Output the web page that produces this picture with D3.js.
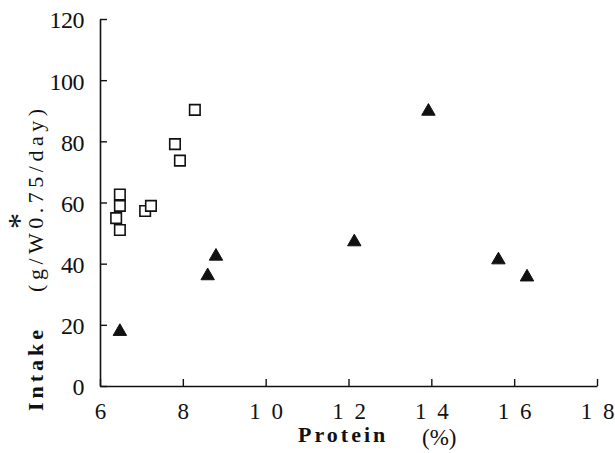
<!DOCTYPE html>
<html>
<head>
<meta charset="utf-8">
<script src="https://cdn.jsdelivr.net/npm/d3@7"></script>
<style>
  html, body { margin: 0; padding: 0; background: #fff; }
  svg { display: block; }
</style>
</head>
<body>
<svg id="chart" width="615" height="453"></svg>
<script>
// ---- data ----
const xTicks = [6, 8, 10, 12, 14, 16, 18];
const yTicks = [0, 20, 40, 60, 80, 100, 120];
// open squares
const squareProtein = [6.48, 6.48, 6.39, 6.48, 7.09, 7.23, 7.81, 7.93, 8.29];
const squareIntake  = [62.6, 58.9, 54.9, 51.0, 57.2, 58.9, 79.1, 73.7, 90.3];
// filled triangles
const triProtein = [6.48, 8.60, 8.80, 12.14, 13.93, 15.62, 16.31];
const triIntake  = [18.3, 36.5, 42.9, 47.6, 90.3, 41.7, 36.1];

const svg = d3.select("#chart");
const font = "'Liberation Serif', 'Times New Roman', serif";

const x = d3.scaleLinear().domain([6, 18]).range([100, 597]);
const y = d3.scaleLinear().domain([0, 120]).range([386, 19]);

// axes
const xAxis = d3.axisBottom(x).tickValues(xTicks).tickSize(-7).tickSizeOuter(0)
  .tickFormat(d => String(d).split("").join(" "));
const gx = svg.append("g").attr("transform", `translate(0,${y(0)})`).call(xAxis);
gx.select(".domain").attr("stroke", "#111").attr("stroke-width", 1.6);
gx.selectAll(".tick line").attr("stroke", "#111").attr("stroke-width", 1.4);
gx.selectAll(".tick text")
  .attr("font-family", font).attr("font-size", 23).attr("fill", "#111")
  .attr("word-spacing", "5px")
  .attr("y", 33).attr("dy", 0);

const yAxis = d3.axisLeft(y).tickValues(yTicks).tickSize(-7).tickSizeOuter(0)
  .tickFormat(d => String(d));
const gy = svg.append("g").attr("transform", `translate(${x(6)},0)`).call(yAxis);
gy.select(".domain").attr("stroke", "#111").attr("stroke-width", 1.6);
gy.selectAll(".tick line").attr("stroke", "#111").attr("stroke-width", 1.4);
gy.selectAll(".tick text")
  .attr("font-family", font).attr("font-size", 24).attr("fill", "#111")
  .attr("x", -16).attr("y", -6).attr("dy", "0.62em").attr("letter-spacing", "-0.5px");

// markers
const sq = d3.symbol().type(d3.symbolSquare).size(110);
svg.append("g").selectAll("path")
  .data(squareProtein.map((p, i) => [p, squareIntake[i]]))
  .join("path")
  .attr("d", sq)
  .attr("transform", d => `translate(${x(d[0])},${y(d[1])})`)
  .attr("fill", "#fff").attr("stroke", "#111").attr("stroke-width", 1.6);

const tri = d3.symbol().type(d3.symbolTriangle).size(78);
svg.append("g").selectAll("path")
  .data(triProtein.map((p, i) => [p, triIntake[i]]))
  .join("path")
  .attr("d", tri)
  .attr("transform", d => `translate(${x(d[0])},${y(d[1]) + 1.5})`)
  .attr("fill", "#111").attr("stroke", "#111").attr("stroke-width", 1);

// x axis title
svg.append("text")
  .attr("x", 298).attr("y", 442)
  .attr("font-family", font).attr("font-size", 22).attr("fill", "#111")
  .attr("font-weight", "bold").attr("letter-spacing", "3px").text("Protein");
svg.append("text")
  .attr("x", 422).attr("y", 445)
  .attr("font-family", font).attr("font-size", 23).attr("fill", "#111")
  .text("(%)");

// y axis title (rotated)
const yt = svg.append("text")
  .attr("transform", "translate(43,411) rotate(-90)")
  .attr("font-family", font).attr("font-size", 22).attr("fill", "#111");
yt.append("tspan").attr("font-weight", "bold").attr("letter-spacing", "4px").text("Intake");
yt.append("tspan").attr("dx", 34).attr("letter-spacing", "4.5px").text("(g/W0.75/day)");

// asterisk above W
svg.append("text")
  .attr("transform", "translate(30,221) rotate(-90)")
  .attr("text-anchor", "middle")
  .attr("font-family", font).attr("font-size", 32).attr("fill", "#111")
  .text("*");
</script>
</body>
</html>
